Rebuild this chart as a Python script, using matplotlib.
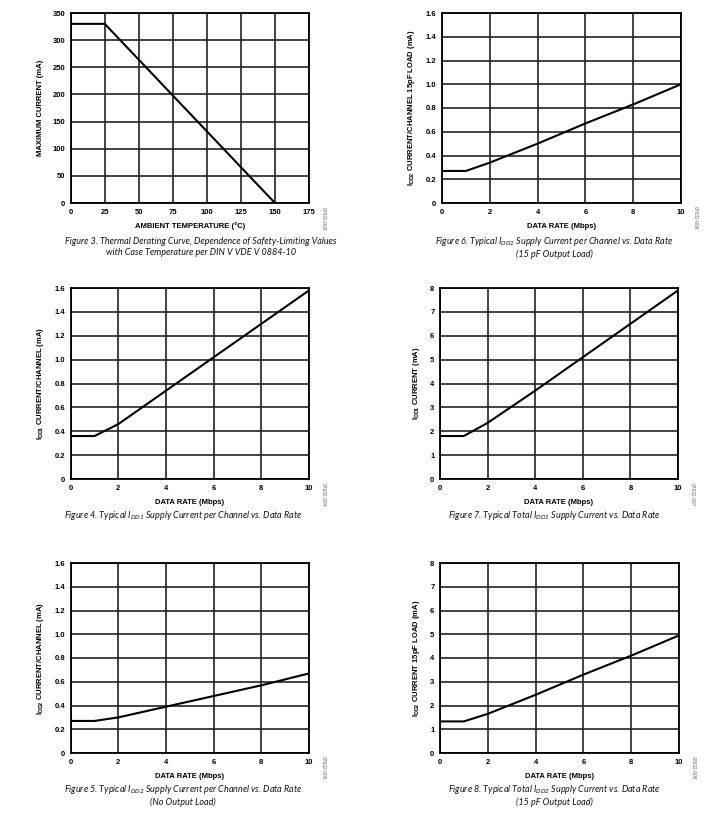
import matplotlib
matplotlib.use("Agg")
import matplotlib.pyplot as plt

plt.rcParams['font.family'] = ['Liberation Sans', 'DejaVu Sans']
plt.rcParams['mathtext.fontset'] = 'custom'
plt.rcParams['mathtext.rm'] = 'Liberation Sans:bold'
plt.rcParams['mathtext.it'] = 'Liberation Sans:bold'
plt.rcParams['mathtext.bf'] = 'Liberation Sans:bold'

# ---- data ----
temp_x = [0, 25, 150]
temp_y = [330, 330, 0]

rate_x = [0, 1, 2, 4, 6, 8, 10]
idd1_ch = [0.36, 0.36, 0.46, 0.74, 1.02, 1.30, 1.58]
idd2_ch_noload = [0.27, 0.27, 0.30, 0.39, 0.48, 0.57, 0.67]
idd2_ch_15pf = [0.27, 0.27, 0.34, 0.50, 0.67, 0.83, 1.00]
idd1_total = [1.80, 1.80, 2.35, 3.70, 5.10, 6.50, 7.90]
idd2_total_15pf = [1.33, 1.33, 1.65, 2.45, 3.30, 4.10, 4.95]

temp_ticks = [0, 25, 50, 75, 100, 125, 150, 175]
cur_ticks = [0, 50, 100, 150, 200, 250, 300, 350]
rate_ticks = [0, 2, 4, 6, 8, 10]
ch_ticks = [0, 0.2, 0.4, 0.6, 0.8, 1.0, 1.2, 1.4, 1.6]
ch_labels = ['0', '0.2', '0.4', '0.6', '0.8', '1.0', '1.2', '1.4', '1.6']
tot_ticks = [0, 1, 2, 3, 4, 5, 6, 7, 8]

W, H = 722, 816
fig = plt.figure(figsize=(W / 100, H / 100), dpi=100)


def make_ax(l, r, t, b):
    return fig.add_axes([l / W, 1 - b / H, (r - l) / W, (b - t) / H])


def style(ax, xticks, yticks, xlim, ylim, xlabel, ylabel, code, ylabels=None):
    ax.set_xlim(*xlim)
    ax.set_ylim(*ylim)
    ax.set_xticks(xticks)
    ax.set_yticks(yticks)
    if ylabels is not None:
        ax.set_yticklabels(ylabels)
    ax.tick_params(length=0, labelsize=5.5, pad=4)
    for lab in ax.get_xticklabels() + ax.get_yticklabels():
        lab.set_fontweight('bold')
    ax.grid(True, color='#222222', linewidth=1.2)
    for s in ax.spines.values():
        s.set_linewidth(1.3)
        s.set_color('black')
    ax.set_xlabel(xlabel, fontsize=5.5, fontweight='bold', labelpad=5)
    ax.set_ylabel(ylabel, fontsize=5.5, fontweight='bold', labelpad=6)
    ax.text(1.06, -0.08, code, transform=ax.transAxes, rotation=270,
            fontsize=3.5, color='#666666', ha='center', va='center')


def caption(x, y, text):
    fig.text(x / W, 1 - y / H, text, ha='center', va='center', fontsize=6.5,
             style='italic', family=['Lato', 'DejaVu Sans'], color='#111122',
             linespacing=1.3)


# Figure 3
ax = make_ax(70.7, 309, 13, 203)
ax.plot(temp_x, temp_y, color='black', linewidth=1.5)
style(ax, temp_ticks, cur_ticks, (0, 175), (0, 350),
      'AMBIENT TEMPERATURE (°C)', 'MAXIMUM CURRENT (mA)', '07632-003')
caption(201, 247, 'Figure 3. Thermal Derating Curve, Dependence of Safety-Limiting Values\n'
        'with Case Temperature per DIN V VDE V 0884-10')

# Figure 6
ax = make_ax(442, 681, 13, 203)
ax.plot(rate_x, idd2_ch_15pf, color='black', linewidth=1.5)
style(ax, rate_ticks, ch_ticks, (0, 10), (0, 1.6), 'DATA RATE (Mbps)',
      r'I$_{\mathregular{DD2}}$ CURRENT/CHANNEL 15pF LOAD (mA)', '07632-006', ch_labels)
caption(554, 247, 'Figure 6. Typical I$_{\\mathregular{DD2}}$ Supply Current per Channel vs. Data Rate\n'
        '(15 pF Output Load)')

# Figure 4
ax = make_ax(70.7, 309, 288, 479)
ax.plot(rate_x, idd1_ch, color='black', linewidth=1.5)
style(ax, rate_ticks, ch_ticks, (0, 10), (0, 1.6), 'DATA RATE (Mbps)',
      r'I$_{\mathregular{DD1}}$ CURRENT/CHANNEL (mA)', '07632-004', ch_labels)
caption(183, 516, 'Figure 4. Typical I$_{\\mathregular{DD1}}$ Supply Current per Channel vs. Data Rate')

# Figure 7
ax = make_ax(440, 678, 288, 479)
ax.plot(rate_x, idd1_total, color='black', linewidth=1.5)
style(ax, rate_ticks, tot_ticks, (0, 10), (0, 8), 'DATA RATE (Mbps)',
      r'I$_{\mathregular{DD1}}$ CURRENT (mA)', '07632-007')
caption(554, 516, 'Figure 7. Typical Total I$_{\\mathregular{DD1}}$ Supply Current vs. Data Rate')

# Figure 5
ax = make_ax(70.7, 309, 563, 753)
ax.plot(rate_x, idd2_ch_noload, color='black', linewidth=1.5)
style(ax, rate_ticks, ch_ticks, (0, 10), (0, 1.6), 'DATA RATE (Mbps)',
      r'I$_{\mathregular{DD2}}$ CURRENT/CHANNEL (mA)', '07632-005', ch_labels)
caption(183, 795, 'Figure 5. Typical I$_{\\mathregular{DD2}}$ Supply Current per Channel vs. Data Rate\n'
        '(No Output Load)')

# Figure 8
ax = make_ax(440, 679, 563, 753)
ax.plot(rate_x, idd2_total_15pf, color='black', linewidth=1.5)
style(ax, rate_ticks, tot_ticks, (0, 10), (0, 8), 'DATA RATE (Mbps)',
      r'I$_{\mathregular{DD2}}$ CURRENT 15pF LOAD (mA)', '07632-008')
caption(554, 795, 'Figure 8. Typical Total I$_{\\mathregular{DD2}}$ Supply Current vs. Data Rate\n'
        '(15 pF Output Load)')

fig.savefig('out.png', dpi=100)
